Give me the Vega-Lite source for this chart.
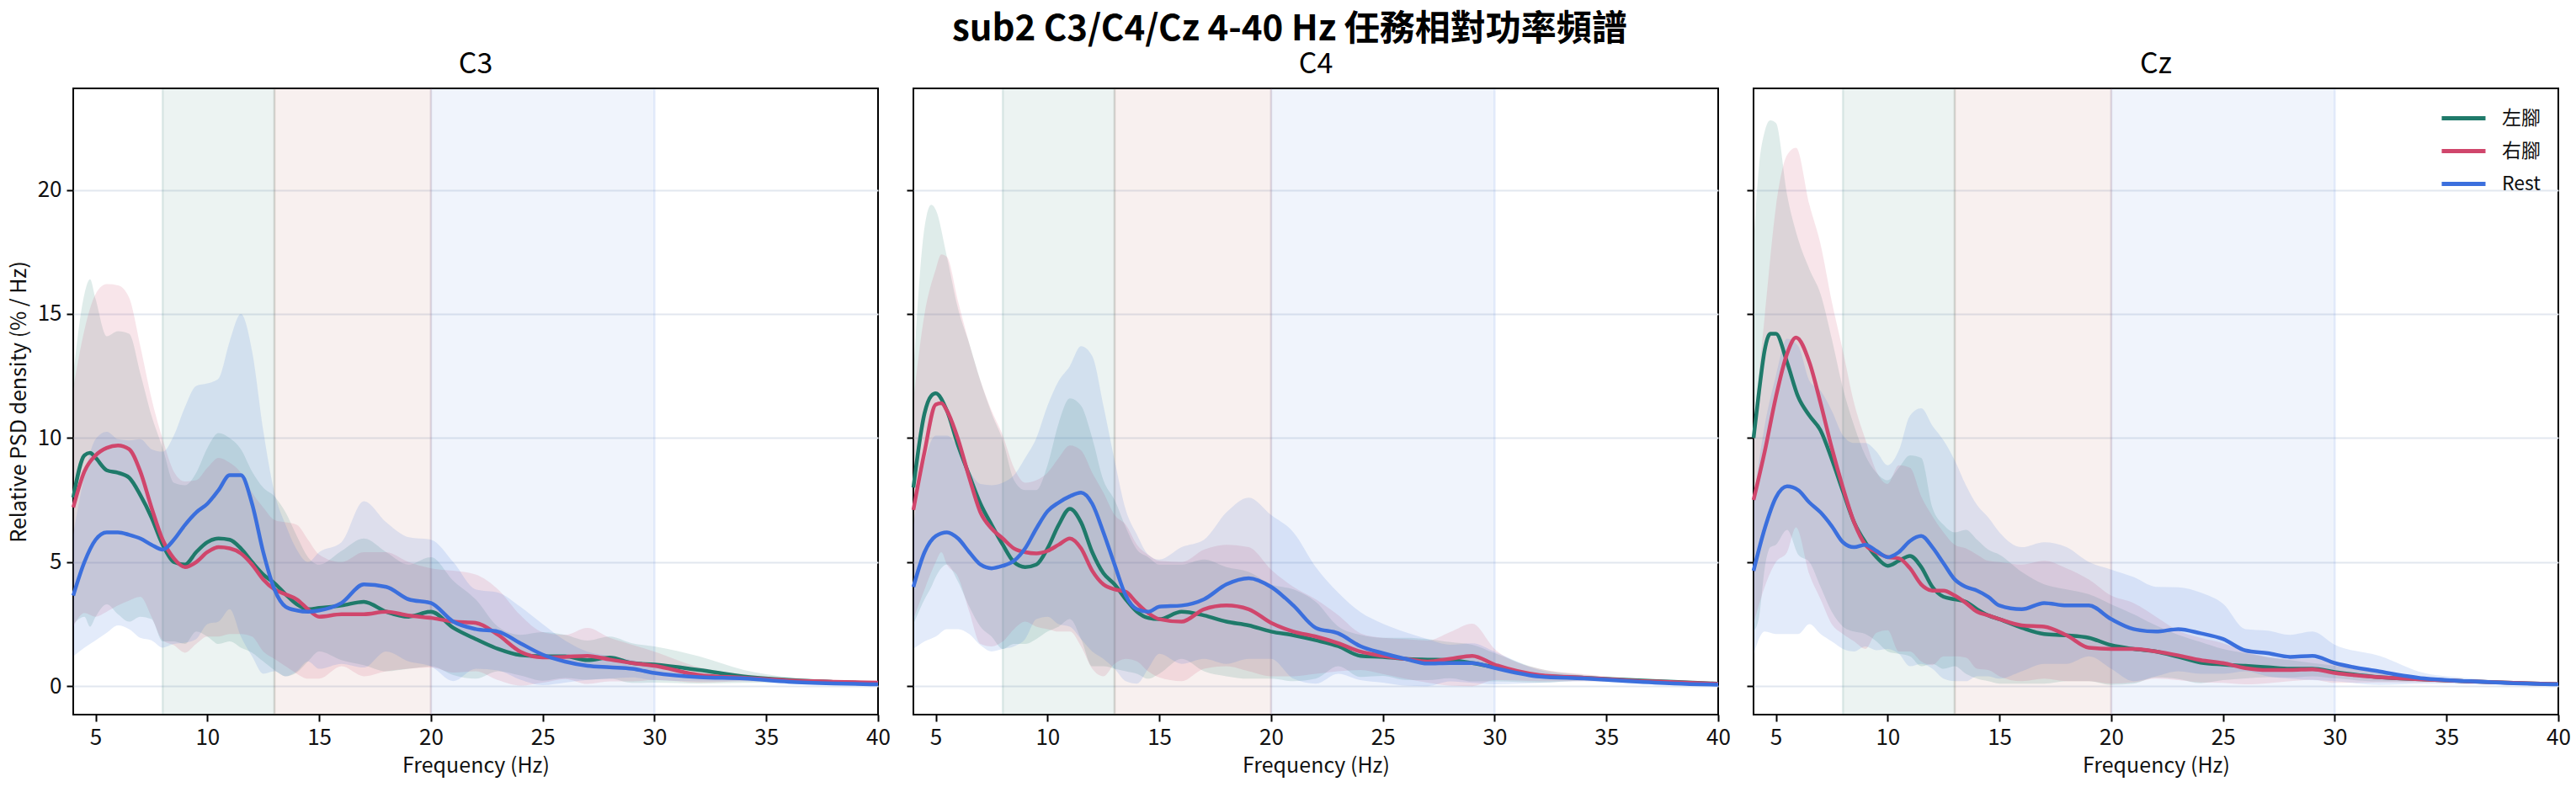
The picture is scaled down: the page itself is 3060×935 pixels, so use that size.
{
"$schema": "https://vega.github.io/schema/vega-lite/v6.json",
"background": "white",
"padding": {"left": 9, "top": 13, "right": 10, "bottom": 5},
"bounds": "flush",
"spacing": 42,
"title": {"text": "sub2 C3/C4/Cz 4-40 Hz 任務相對功率頻譜", "fontSize": 42, "fontWeight": "bold", "font": "Noto Sans CJK TC", "anchor": "middle", "color": "#000", "offset": 2},
"config": {
  "font": "Noto Sans CJK TC",
  "view": {"stroke": "#000", "strokeWidth": 2},
  "axis": {"domain": false, "tickColor": "#000", "tickWidth": 2, "tickSize": 8, "labelFontSize": 26, "labelColor": "#111", "titleFontSize": 25, "titleFontWeight": "normal", "titleColor": "#111", "gridColor": "#e2e7ef", "gridWidth": 2, "labelPadding": 6, "labelFlush": false, "labelOverlap": false},
  "axisX": {"grid": false, "titlePadding": 8},
  "axisY": {"grid": true, "titlePadding": 9},
  "legend": {"labelFontSize": 23, "labelColor": "#111", "padding": 0}
},
"resolve": {"scale": {"color": "independent", "fill": "independent", "stroke": "independent"}, "legend": {"color": "independent"}},
"datasets": {
  "bands": [{"band": "alpha", "x1": 8, "x2": 13}, {"band": "beta1", "x1": 13, "x2": 20}, {"band": "beta2", "x1": 20, "x2": 30}],
  "psd": [
{"ch":"C3","c":"左腳","f":4,"m":7.6,"lo":2.5,"hi":12.5},
{"ch":"C3","c":"左腳","f":4.5,"m":9.3,"lo":2.8,"hi":15.8},
{"ch":"C3","c":"左腳","f":4.75,"m":9.4,"lo":2.4,"hi":16.4},
{"ch":"C3","c":"左腳","f":5,"m":9.2,"lo":2.8,"hi":15.6},
{"ch":"C3","c":"左腳","f":5.5,"m":8.7,"lo":3.3,"hi":14.1},
{"ch":"C3","c":"左腳","f":6,"m":8.6,"lo":2.9,"hi":14.3},
{"ch":"C3","c":"左腳","f":6.5,"m":8.4,"lo":2.6,"hi":14.2},
{"ch":"C3","c":"左腳","f":7,"m":7.7,"lo":2.8,"hi":12.6},
{"ch":"C3","c":"左腳","f":7.5,"m":6.8,"lo":2.7,"hi":10.9},
{"ch":"C3","c":"左腳","f":8,"m":5.7,"lo":1.8,"hi":9.6},
{"ch":"C3","c":"左腳","f":8.5,"m":5.0,"lo":1.8,"hi":8.2},
{"ch":"C3","c":"左腳","f":9,"m":4.9,"lo":1.7,"hi":8.1},
{"ch":"C3","c":"左腳","f":9.5,"m":5.4,"lo":2.2,"hi":8.6},
{"ch":"C3","c":"左腳","f":10,"m":5.8,"lo":2.0,"hi":9.6},
{"ch":"C3","c":"左腳","f":10.5,"m":5.95,"lo":1.7,"hi":10.2},
{"ch":"C3","c":"左腳","f":11,"m":5.9,"lo":1.8,"hi":10.0},
{"ch":"C3","c":"左腳","f":11.5,"m":5.55,"lo":1.55,"hi":9.55},
{"ch":"C3","c":"左腳","f":12,"m":5.0,"lo":1.35,"hi":8.65},
{"ch":"C3","c":"左腳","f":12.5,"m":4.5,"lo":1.0,"hi":8.0},
{"ch":"C3","c":"左腳","f":13,"m":4.15,"lo":0.65,"hi":7.65},
{"ch":"C3","c":"左腳","f":13.5,"m":3.7,"lo":0.4,"hi":7.0},
{"ch":"C3","c":"左腳","f":14,"m":3.3,"lo":0.55,"hi":6.05},
{"ch":"C3","c":"左腳","f":14.5,"m":3.1,"lo":1.0,"hi":5.2},
{"ch":"C3","c":"左腳","f":15,"m":3.15,"lo":1.4,"hi":4.9},
{"ch":"C3","c":"左腳","f":16,"m":3.25,"lo":1.05,"hi":5.45},
{"ch":"C3","c":"左腳","f":17,"m":3.4,"lo":0.85,"hi":5.95},
{"ch":"C3","c":"左腳","f":18,"m":3.0,"lo":0.6,"hi":5.4},
{"ch":"C3","c":"左腳","f":19,"m":2.8,"lo":0.7,"hi":4.9},
{"ch":"C3","c":"左腳","f":20,"m":3.0,"lo":0.8,"hi":5.2},
{"ch":"C3","c":"左腳","f":21,"m":2.35,"lo":0.45,"hi":4.25},
{"ch":"C3","c":"左腳","f":22,"m":1.9,"lo":0.3,"hi":3.5},
{"ch":"C3","c":"左腳","f":23,"m":1.5,"lo":0.6,"hi":2.4},
{"ch":"C3","c":"左腳","f":24,"m":1.25,"lo":0.43,"hi":2.07},
{"ch":"C3","c":"左腳","f":25,"m":1.2,"lo":0.22,"hi":2.18},
{"ch":"C3","c":"左腳","f":26,"m":1.2,"lo":0.33,"hi":2.07},
{"ch":"C3","c":"左腳","f":27,"m":1.05,"lo":0.26,"hi":1.84},
{"ch":"C3","c":"左腳","f":28,"m":1.15,"lo":0.3,"hi":2.0},
{"ch":"C3","c":"左腳","f":29,"m":0.93,"lo":0.13,"hi":1.73},
{"ch":"C3","c":"左腳","f":30,"m":0.87,"lo":0.14,"hi":1.6},
{"ch":"C3","c":"左腳","f":32,"m":0.65,"lo":0.1,"hi":1.2},
{"ch":"C3","c":"左腳","f":34,"m":0.39,"lo":0.13,"hi":0.65},
{"ch":"C3","c":"左腳","f":36,"m":0.25,"lo":0.14,"hi":0.36},
{"ch":"C3","c":"左腳","f":38,"m":0.17,"lo":0.1,"hi":0.24},
{"ch":"C3","c":"左腳","f":40,"m":0.11,"lo":0.07,"hi":0.15},
{"ch":"C3","c":"右腳","f":4,"m":7.2,"lo":2.4,"hi":12.0},
{"ch":"C3","c":"右腳","f":4.5,"m":8.65,"lo":2.95,"hi":14.35},
{"ch":"C3","c":"右腳","f":5,"m":9.3,"lo":2.8,"hi":15.8},
{"ch":"C3","c":"右腳","f":5.5,"m":9.6,"lo":3.0,"hi":16.2},
{"ch":"C3","c":"右腳","f":6,"m":9.7,"lo":3.25,"hi":16.15},
{"ch":"C3","c":"右腳","f":6.5,"m":9.55,"lo":3.45,"hi":15.65},
{"ch":"C3","c":"右腳","f":7,"m":8.65,"lo":3.6,"hi":13.7},
{"ch":"C3","c":"右腳","f":7.5,"m":7.2,"lo":2.8,"hi":11.6},
{"ch":"C3","c":"右腳","f":8,"m":5.9,"lo":1.85,"hi":9.95},
{"ch":"C3","c":"右腳","f":8.5,"m":5.15,"lo":1.65,"hi":8.65},
{"ch":"C3","c":"右腳","f":9,"m":4.8,"lo":1.35,"hi":8.25},
{"ch":"C3","c":"右腳","f":9.5,"m":5.0,"lo":1.7,"hi":8.3},
{"ch":"C3","c":"右腳","f":10,"m":5.4,"lo":2.0,"hi":8.8},
{"ch":"C3","c":"右腳","f":10.5,"m":5.6,"lo":2.0,"hi":9.2},
{"ch":"C3","c":"右腳","f":11,"m":5.55,"lo":2.1,"hi":9.0},
{"ch":"C3","c":"右腳","f":11.5,"m":5.35,"lo":2.1,"hi":8.6},
{"ch":"C3","c":"右腳","f":12,"m":4.9,"lo":2.0,"hi":7.8},
{"ch":"C3","c":"右腳","f":12.5,"m":4.3,"lo":1.4,"hi":7.2},
{"ch":"C3","c":"右腳","f":13,"m":3.9,"lo":1.1,"hi":6.7},
{"ch":"C3","c":"右腳","f":13.5,"m":3.7,"lo":0.8,"hi":6.6},
{"ch":"C3","c":"右腳","f":14,"m":3.5,"lo":0.5,"hi":6.5},
{"ch":"C3","c":"右腳","f":14.5,"m":3.1,"lo":0.3,"hi":5.9},
{"ch":"C3","c":"右腳","f":15,"m":2.8,"lo":0.3,"hi":5.3},
{"ch":"C3","c":"右腳","f":16,"m":2.9,"lo":0.8,"hi":5.0},
{"ch":"C3","c":"右腳","f":17,"m":2.9,"lo":0.4,"hi":5.4},
{"ch":"C3","c":"右腳","f":18,"m":3.0,"lo":0.6,"hi":5.4},
{"ch":"C3","c":"右腳","f":19,"m":2.85,"lo":0.7,"hi":5.0},
{"ch":"C3","c":"右腳","f":20,"m":2.75,"lo":0.75,"hi":4.75},
{"ch":"C3","c":"右腳","f":21,"m":2.6,"lo":0.55,"hi":4.65},
{"ch":"C3","c":"右腳","f":22,"m":2.55,"lo":0.6,"hi":4.5},
{"ch":"C3","c":"右腳","f":23,"m":2.07,"lo":0.24,"hi":3.9},
{"ch":"C3","c":"右腳","f":24,"m":1.39,"lo":0.02,"hi":2.86},
{"ch":"C3","c":"右腳","f":25,"m":1.16,"lo":0.14,"hi":2.18},
{"ch":"C3","c":"右腳","f":26,"m":1.18,"lo":0.29,"hi":2.07},
{"ch":"C3","c":"右腳","f":27,"m":1.22,"lo":0.09,"hi":2.35},
{"ch":"C3","c":"右腳","f":28,"m":1.07,"lo":0.19,"hi":1.95},
{"ch":"C3","c":"右腳","f":29,"m":0.93,"lo":0.19,"hi":1.67},
{"ch":"C3","c":"右腳","f":30,"m":0.82,"lo":0.25,"hi":1.39},
{"ch":"C3","c":"右腳","f":32,"m":0.45,"lo":0.14,"hi":0.76},
{"ch":"C3","c":"右腳","f":34,"m":0.34,"lo":0.2,"hi":0.48},
{"ch":"C3","c":"右腳","f":36,"m":0.23,"lo":0.16,"hi":0.3},
{"ch":"C3","c":"右腳","f":38,"m":0.18,"lo":0.13,"hi":0.23},
{"ch":"C3","c":"右腳","f":40,"m":0.14,"lo":0.1,"hi":0.18},
{"ch":"C3","c":"Rest","f":4,"m":3.65,"lo":1.2,"hi":6.1},
{"ch":"C3","c":"Rest","f":4.5,"m":5.0,"lo":1.55,"hi":8.45},
{"ch":"C3","c":"Rest","f":5,"m":5.9,"lo":1.85,"hi":9.95},
{"ch":"C3","c":"Rest","f":5.5,"m":6.2,"lo":2.15,"hi":10.25},
{"ch":"C3","c":"Rest","f":6,"m":6.2,"lo":2.45,"hi":9.95},
{"ch":"C3","c":"Rest","f":6.5,"m":6.1,"lo":2.3,"hi":9.9},
{"ch":"C3","c":"Rest","f":7,"m":5.95,"lo":1.95,"hi":9.95},
{"ch":"C3","c":"Rest","f":7.5,"m":5.7,"lo":1.85,"hi":9.55},
{"ch":"C3","c":"Rest","f":8,"m":5.5,"lo":1.55,"hi":9.45},
{"ch":"C3","c":"Rest","f":8.5,"m":5.9,"lo":1.7,"hi":10.1},
{"ch":"C3","c":"Rest","f":9,"m":6.5,"lo":1.75,"hi":11.25},
{"ch":"C3","c":"Rest","f":9.5,"m":7.0,"lo":1.9,"hi":12.1},
{"ch":"C3","c":"Rest","f":10,"m":7.35,"lo":2.5,"hi":12.2},
{"ch":"C3","c":"Rest","f":10.5,"m":7.9,"lo":2.6,"hi":12.4},
{"ch":"C3","c":"Rest","f":11,"m":8.5,"lo":3.1,"hi":13.9},
{"ch":"C3","c":"Rest","f":11.5,"m":8.5,"lo":2.0,"hi":15.0},
{"ch":"C3","c":"Rest","f":12,"m":7.35,"lo":1.2,"hi":13.5},
{"ch":"C3","c":"Rest","f":12.5,"m":5.4,"lo":0.5,"hi":10.3},
{"ch":"C3","c":"Rest","f":13,"m":3.9,"lo":0.6,"hi":7.8},
{"ch":"C3","c":"Rest","f":13.5,"m":3.2,"lo":0.4,"hi":6.5},
{"ch":"C3","c":"Rest","f":14,"m":3.05,"lo":0.6,"hi":5.5},
{"ch":"C3","c":"Rest","f":14.5,"m":3.0,"lo":1.0,"hi":5.0},
{"ch":"C3","c":"Rest","f":15,"m":3.05,"lo":0.7,"hi":5.4},
{"ch":"C3","c":"Rest","f":16,"m":3.35,"lo":0.9,"hi":5.8},
{"ch":"C3","c":"Rest","f":17,"m":4.1,"lo":0.75,"hi":7.45},
{"ch":"C3","c":"Rest","f":18,"m":4.0,"lo":1.4,"hi":6.6},
{"ch":"C3","c":"Rest","f":19,"m":3.5,"lo":1.0,"hi":6.0},
{"ch":"C3","c":"Rest","f":20,"m":3.35,"lo":0.8,"hi":5.9},
{"ch":"C3","c":"Rest","f":21,"m":2.6,"lo":0.2,"hi":5.0},
{"ch":"C3","c":"Rest","f":22,"m":2.3,"lo":0.7,"hi":3.9},
{"ch":"C3","c":"Rest","f":23,"m":2.2,"lo":0.63,"hi":3.77},
{"ch":"C3","c":"Rest","f":24,"m":1.73,"lo":0.26,"hi":3.2},
{"ch":"C3","c":"Rest","f":25,"m":1.27,"lo":0.04,"hi":2.5},
{"ch":"C3","c":"Rest","f":26,"m":0.99,"lo":0.14,"hi":1.84},
{"ch":"C3","c":"Rest","f":27,"m":0.82,"lo":0.25,"hi":1.39},
{"ch":"C3","c":"Rest","f":28,"m":0.76,"lo":0.3,"hi":1.22},
{"ch":"C3","c":"Rest","f":29,"m":0.7,"lo":0.35,"hi":1.05},
{"ch":"C3","c":"Rest","f":30,"m":0.53,"lo":0.24,"hi":0.82},
{"ch":"C3","c":"Rest","f":32,"m":0.36,"lo":0.19,"hi":0.53},
{"ch":"C3","c":"Rest","f":34,"m":0.31,"lo":0.2,"hi":0.42},
{"ch":"C3","c":"Rest","f":36,"m":0.18,"lo":0.1,"hi":0.26},
{"ch":"C3","c":"Rest","f":38,"m":0.11,"lo":0.06,"hi":0.16},
{"ch":"C3","c":"Rest","f":40,"m":0.07,"lo":0.04,"hi":0.1},
{"ch":"C4","c":"左腳","f":4,"m":8.0,"lo":2.5,"hi":12.5},
{"ch":"C4","c":"左腳","f":4.5,"m":11.0,"lo":3.5,"hi":18.5},
{"ch":"C4","c":"左腳","f":4.8,"m":11.7,"lo":4.0,"hi":19.4},
{"ch":"C4","c":"左腳","f":5,"m":11.8,"lo":4.4,"hi":19.2},
{"ch":"C4","c":"左腳","f":5.5,"m":11.1,"lo":4.9,"hi":17.3},
{"ch":"C4","c":"左腳","f":6,"m":9.7,"lo":4.2,"hi":15.2},
{"ch":"C4","c":"左腳","f":6.5,"m":8.5,"lo":3.2,"hi":13.8},
{"ch":"C4","c":"左腳","f":7,"m":7.35,"lo":2.4,"hi":12.3},
{"ch":"C4","c":"左腳","f":7.5,"m":6.5,"lo":2.0,"hi":11.0},
{"ch":"C4","c":"左腳","f":8,"m":5.7,"lo":1.5,"hi":9.9},
{"ch":"C4","c":"左腳","f":8.5,"m":5.0,"lo":1.7,"hi":8.3},
{"ch":"C4","c":"左腳","f":9,"m":4.8,"lo":1.7,"hi":7.9},
{"ch":"C4","c":"左腳","f":9.5,"m":4.9,"lo":1.9,"hi":7.9},
{"ch":"C4","c":"左腳","f":10,"m":5.55,"lo":2.2,"hi":8.9},
{"ch":"C4","c":"左腳","f":10.5,"m":6.5,"lo":2.4,"hi":10.6},
{"ch":"C4","c":"左腳","f":11,"m":7.15,"lo":2.7,"hi":11.6},
{"ch":"C4","c":"左腳","f":11.5,"m":6.6,"lo":1.9,"hi":11.3},
{"ch":"C4","c":"左腳","f":12,"m":5.4,"lo":0.8,"hi":10.0},
{"ch":"C4","c":"左腳","f":12.5,"m":4.55,"lo":0.8,"hi":8.3},
{"ch":"C4","c":"左腳","f":13,"m":4.1,"lo":0.7,"hi":7.5},
{"ch":"C4","c":"左腳","f":13.5,"m":3.5,"lo":0.6,"hi":6.4},
{"ch":"C4","c":"左腳","f":14,"m":3.0,"lo":0.5,"hi":5.5},
{"ch":"C4","c":"左腳","f":14.5,"m":2.75,"lo":0.3,"hi":5.2},
{"ch":"C4","c":"左腳","f":15,"m":2.7,"lo":0.5,"hi":4.9},
{"ch":"C4","c":"左腳","f":16,"m":3.0,"lo":1.1,"hi":4.9},
{"ch":"C4","c":"左腳","f":17,"m":2.85,"lo":0.6,"hi":5.1},
{"ch":"C4","c":"左腳","f":18,"m":2.6,"lo":0.4,"hi":4.8},
{"ch":"C4","c":"左腳","f":19,"m":2.45,"lo":0.3,"hi":4.6},
{"ch":"C4","c":"左腳","f":20,"m":2.2,"lo":0.3,"hi":4.1},
{"ch":"C4","c":"左腳","f":21,"m":2.05,"lo":0.2,"hi":3.9},
{"ch":"C4","c":"左腳","f":22,"m":1.85,"lo":0.3,"hi":3.4},
{"ch":"C4","c":"左腳","f":23,"m":1.61,"lo":0.8,"hi":2.41},
{"ch":"C4","c":"左腳","f":24,"m":1.22,"lo":0.37,"hi":2.07},
{"ch":"C4","c":"左腳","f":25,"m":1.18,"lo":0.41,"hi":1.95},
{"ch":"C4","c":"左腳","f":26,"m":1.1,"lo":0.25,"hi":1.95},
{"ch":"C4","c":"左腳","f":27,"m":1.07,"lo":0.24,"hi":1.9},
{"ch":"C4","c":"左腳","f":28,"m":1.05,"lo":0.32,"hi":1.78},
{"ch":"C4","c":"左腳","f":29,"m":0.93,"lo":0.19,"hi":1.67},
{"ch":"C4","c":"左腳","f":30,"m":0.76,"lo":0.19,"hi":1.33},
{"ch":"C4","c":"左腳","f":32,"m":0.42,"lo":0.14,"hi":0.7},
{"ch":"C4","c":"左腳","f":34,"m":0.34,"lo":0.23,"hi":0.45},
{"ch":"C4","c":"左腳","f":36,"m":0.25,"lo":0.2,"hi":0.3},
{"ch":"C4","c":"左腳","f":38,"m":0.18,"lo":0.14,"hi":0.22},
{"ch":"C4","c":"左腳","f":40,"m":0.1,"lo":0.08,"hi":0.12},
{"ch":"C4","c":"右腳","f":4,"m":7.1,"lo":2.7,"hi":11.5},
{"ch":"C4","c":"右腳","f":4.5,"m":9.45,"lo":3.9,"hi":15.0},
{"ch":"C4","c":"右腳","f":5,"m":11.35,"lo":5.0,"hi":16.8},
{"ch":"C4","c":"右腳","f":5.25,"m":11.4,"lo":5.4,"hi":17.4},
{"ch":"C4","c":"右腳","f":5.5,"m":11.1,"lo":4.9,"hi":17.3},
{"ch":"C4","c":"右腳","f":6,"m":9.95,"lo":4.4,"hi":15.5},
{"ch":"C4","c":"右腳","f":6.5,"m":8.4,"lo":3.0,"hi":13.8},
{"ch":"C4","c":"右腳","f":7,"m":7.0,"lo":1.7,"hi":12.3},
{"ch":"C4","c":"右腳","f":7.5,"m":6.35,"lo":1.6,"hi":11.1},
{"ch":"C4","c":"右腳","f":8,"m":5.95,"lo":1.8,"hi":10.1},
{"ch":"C4","c":"右腳","f":8.5,"m":5.55,"lo":2.3,"hi":8.8},
{"ch":"C4","c":"右腳","f":9,"m":5.4,"lo":2.6,"hi":8.2},
{"ch":"C4","c":"右腳","f":9.5,"m":5.35,"lo":2.4,"hi":8.3},
{"ch":"C4","c":"右腳","f":10,"m":5.45,"lo":2.3,"hi":8.6},
{"ch":"C4","c":"右腳","f":10.5,"m":5.7,"lo":2.2,"hi":9.2},
{"ch":"C4","c":"右腳","f":11,"m":5.95,"lo":2.2,"hi":9.7},
{"ch":"C4","c":"右腳","f":11.5,"m":5.55,"lo":1.6,"hi":9.5},
{"ch":"C4","c":"右腳","f":12,"m":4.65,"lo":0.7,"hi":8.6},
{"ch":"C4","c":"右腳","f":12.5,"m":4.1,"lo":0.4,"hi":7.8},
{"ch":"C4","c":"右腳","f":13,"m":3.9,"lo":0.9,"hi":6.9},
{"ch":"C4","c":"右腳","f":13.5,"m":3.8,"lo":1.1,"hi":6.5},
{"ch":"C4","c":"右腳","f":14,"m":3.35,"lo":1.0,"hi":5.7},
{"ch":"C4","c":"右腳","f":14.5,"m":2.95,"lo":0.6,"hi":5.3},
{"ch":"C4","c":"右腳","f":15,"m":2.7,"lo":0.35,"hi":5.05},
{"ch":"C4","c":"右腳","f":16,"m":2.6,"lo":0.2,"hi":5.0},
{"ch":"C4","c":"右腳","f":17,"m":3.1,"lo":0.7,"hi":5.5},
{"ch":"C4","c":"右腳","f":18,"m":3.25,"lo":0.8,"hi":5.7},
{"ch":"C4","c":"右腳","f":19,"m":3.1,"lo":0.6,"hi":5.6},
{"ch":"C4","c":"右腳","f":20,"m":2.55,"lo":0.4,"hi":4.7},
{"ch":"C4","c":"右腳","f":21,"m":2.2,"lo":0.4,"hi":4.0},
{"ch":"C4","c":"右腳","f":22,"m":2.0,"lo":0.5,"hi":3.5},
{"ch":"C4","c":"右腳","f":23,"m":1.73,"lo":0.6,"hi":2.86},
{"ch":"C4","c":"右腳","f":24,"m":1.39,"lo":0.65,"hi":2.13},
{"ch":"C4","c":"右腳","f":25,"m":1.22,"lo":0.49,"hi":1.95},
{"ch":"C4","c":"右腳","f":26,"m":1.1,"lo":0.3,"hi":1.9},
{"ch":"C4","c":"右腳","f":27,"m":0.99,"lo":0.14,"hi":1.84},
{"ch":"C4","c":"右腳","f":28,"m":1.1,"lo":0.02,"hi":2.18},
{"ch":"C4","c":"右腳","f":29,"m":1.22,"lo":0.0,"hi":2.52},
{"ch":"C4","c":"右腳","f":30,"m":0.87,"lo":0.24,"hi":1.5},
{"ch":"C4","c":"右腳","f":32,"m":0.45,"lo":0.2,"hi":0.7},
{"ch":"C4","c":"右腳","f":34,"m":0.34,"lo":0.2,"hi":0.48},
{"ch":"C4","c":"右腳","f":36,"m":0.23,"lo":0.15,"hi":0.31},
{"ch":"C4","c":"右腳","f":38,"m":0.16,"lo":0.12,"hi":0.2},
{"ch":"C4","c":"右腳","f":40,"m":0.09,"lo":0.07,"hi":0.11},
{"ch":"C4","c":"Rest","f":4,"m":4.0,"lo":1.5,"hi":6.5},
{"ch":"C4","c":"Rest","f":4.5,"m":5.4,"lo":1.8,"hi":9.0},
{"ch":"C4","c":"Rest","f":5,"m":6.05,"lo":2.0,"hi":10.1},
{"ch":"C4","c":"Rest","f":5.5,"m":6.2,"lo":2.3,"hi":10.1},
{"ch":"C4","c":"Rest","f":6,"m":5.95,"lo":2.3,"hi":9.6},
{"ch":"C4","c":"Rest","f":6.5,"m":5.4,"lo":2.1,"hi":8.7},
{"ch":"C4","c":"Rest","f":7,"m":4.9,"lo":1.65,"hi":8.15},
{"ch":"C4","c":"Rest","f":7.5,"m":4.75,"lo":1.4,"hi":8.1},
{"ch":"C4","c":"Rest","f":8,"m":4.85,"lo":1.5,"hi":8.2},
{"ch":"C4","c":"Rest","f":8.5,"m":5.05,"lo":1.6,"hi":8.5},
{"ch":"C4","c":"Rest","f":9,"m":5.55,"lo":1.9,"hi":9.2},
{"ch":"C4","c":"Rest","f":9.5,"m":6.35,"lo":2.7,"hi":10.0},
{"ch":"C4","c":"Rest","f":10,"m":7.05,"lo":2.8,"hi":11.3},
{"ch":"C4","c":"Rest","f":10.5,"m":7.4,"lo":2.5,"hi":12.3},
{"ch":"C4","c":"Rest","f":11,"m":7.65,"lo":2.4,"hi":12.9},
{"ch":"C4","c":"Rest","f":11.5,"m":7.8,"lo":1.9,"hi":13.7},
{"ch":"C4","c":"Rest","f":12,"m":7.35,"lo":1.4,"hi":13.3},
{"ch":"C4","c":"Rest","f":12.5,"m":6.2,"lo":1.1,"hi":11.3},
{"ch":"C4","c":"Rest","f":13,"m":4.9,"lo":0.7,"hi":9.1},
{"ch":"C4","c":"Rest","f":13.5,"m":3.65,"lo":0.2,"hi":7.1},
{"ch":"C4","c":"Rest","f":14,"m":3.1,"lo":0.1,"hi":6.1},
{"ch":"C4","c":"Rest","f":14.5,"m":3.0,"lo":0.7,"hi":5.3},
{"ch":"C4","c":"Rest","f":15,"m":3.2,"lo":1.3,"hi":5.1},
{"ch":"C4","c":"Rest","f":16,"m":3.25,"lo":0.9,"hi":5.6},
{"ch":"C4","c":"Rest","f":17,"m":3.5,"lo":1.1,"hi":5.9},
{"ch":"C4","c":"Rest","f":18,"m":4.1,"lo":0.9,"hi":7.0},
{"ch":"C4","c":"Rest","f":19,"m":4.35,"lo":1.1,"hi":7.6},
{"ch":"C4","c":"Rest","f":20,"m":4.0,"lo":1.1,"hi":6.9},
{"ch":"C4","c":"Rest","f":21,"m":3.25,"lo":0.3,"hi":6.2},
{"ch":"C4","c":"Rest","f":22,"m":2.35,"lo":0.1,"hi":4.8},
{"ch":"C4","c":"Rest","f":23,"m":2.13,"lo":0.5,"hi":3.77},
{"ch":"C4","c":"Rest","f":24,"m":1.61,"lo":0.24,"hi":2.98},
{"ch":"C4","c":"Rest","f":25,"m":1.33,"lo":0.14,"hi":2.52},
{"ch":"C4","c":"Rest","f":26,"m":1.1,"lo":0.02,"hi":2.18},
{"ch":"C4","c":"Rest","f":27,"m":0.91,"lo":0.0,"hi":1.9},
{"ch":"C4","c":"Rest","f":28,"m":0.93,"lo":0.19,"hi":1.67},
{"ch":"C4","c":"Rest","f":29,"m":0.93,"lo":0.13,"hi":1.73},
{"ch":"C4","c":"Rest","f":30,"m":0.73,"lo":0.07,"hi":1.39},
{"ch":"C4","c":"Rest","f":32,"m":0.39,"lo":0.13,"hi":0.65},
{"ch":"C4","c":"Rest","f":34,"m":0.31,"lo":0.2,"hi":0.42},
{"ch":"C4","c":"Rest","f":36,"m":0.2,"lo":0.12,"hi":0.28},
{"ch":"C4","c":"Rest","f":38,"m":0.11,"lo":0.05,"hi":0.19},
{"ch":"C4","c":"Rest","f":40,"m":0.06,"lo":0.04,"hi":0.08},
{"ch":"Cz","c":"左腳","f":4,"m":10.0,"lo":2.2,"hi":17.8},
{"ch":"Cz","c":"左腳","f":4.25,"m":11.9,"lo":2.8,"hi":21.0},
{"ch":"Cz","c":"左腳","f":4.5,"m":13.55,"lo":4.75,"hi":22.35},
{"ch":"Cz","c":"左腳","f":4.75,"m":14.2,"lo":5.6,"hi":22.8},
{"ch":"Cz","c":"左腳","f":5,"m":14.2,"lo":5.7,"hi":22.7},
{"ch":"Cz","c":"左腳","f":5.5,"m":13.05,"lo":6.3,"hi":19.8},
{"ch":"Cz","c":"左腳","f":6,"m":11.65,"lo":5.3,"hi":18.0},
{"ch":"Cz","c":"左腳","f":6.5,"m":10.9,"lo":5.0,"hi":16.8},
{"ch":"Cz","c":"左腳","f":7,"m":10.3,"lo":4.0,"hi":15.8},
{"ch":"Cz","c":"左腳","f":7.5,"m":9.15,"lo":3.0,"hi":14.0},
{"ch":"Cz","c":"左腳","f":8,"m":7.85,"lo":2.4,"hi":12.0},
{"ch":"Cz","c":"左腳","f":8.5,"m":6.6,"lo":2.2,"hi":10.5},
{"ch":"Cz","c":"左腳","f":9,"m":5.8,"lo":2.1,"hi":9.3},
{"ch":"Cz","c":"左腳","f":9.5,"m":5.2,"lo":1.8,"hi":8.6},
{"ch":"Cz","c":"左腳","f":10,"m":4.85,"lo":1.4,"hi":8.3},
{"ch":"Cz","c":"左腳","f":10.5,"m":5.05,"lo":1.3,"hi":8.8},
{"ch":"Cz","c":"左腳","f":11,"m":5.25,"lo":1.2,"hi":9.3},
{"ch":"Cz","c":"左腳","f":11.5,"m":4.8,"lo":0.8,"hi":9.2},
{"ch":"Cz","c":"左腳","f":12,"m":4.0,"lo":0.9,"hi":7.2},
{"ch":"Cz","c":"左腳","f":12.5,"m":3.6,"lo":0.7,"hi":6.5},
{"ch":"Cz","c":"左腳","f":13,"m":3.5,"lo":0.8,"hi":6.2},
{"ch":"Cz","c":"左腳","f":13.5,"m":3.4,"lo":0.5,"hi":6.3},
{"ch":"Cz","c":"左腳","f":14,"m":3.1,"lo":0.3,"hi":5.9},
{"ch":"Cz","c":"左腳","f":14.5,"m":2.85,"lo":0.2,"hi":5.5},
{"ch":"Cz","c":"左腳","f":15,"m":2.7,"lo":0.1,"hi":5.3},
{"ch":"Cz","c":"左腳","f":16,"m":2.35,"lo":0.1,"hi":4.6},
{"ch":"Cz","c":"左腳","f":17,"m":2.1,"lo":0.1,"hi":4.1},
{"ch":"Cz","c":"左腳","f":18,"m":2.05,"lo":0.2,"hi":3.9},
{"ch":"Cz","c":"左腳","f":19,"m":1.95,"lo":0.2,"hi":3.7},
{"ch":"Cz","c":"左腳","f":20,"m":1.65,"lo":0.05,"hi":3.3},
{"ch":"Cz","c":"左腳","f":21,"m":1.5,"lo":0.1,"hi":2.9},
{"ch":"Cz","c":"左腳","f":22,"m":1.4,"lo":0.35,"hi":2.45},
{"ch":"Cz","c":"左腳","f":23,"m":1.18,"lo":0.29,"hi":2.07},
{"ch":"Cz","c":"左腳","f":24,"m":0.95,"lo":0.12,"hi":1.78},
{"ch":"Cz","c":"左腳","f":25,"m":0.87,"lo":0.24,"hi":1.5},
{"ch":"Cz","c":"左腳","f":26,"m":0.82,"lo":0.31,"hi":1.33},
{"ch":"Cz","c":"左腳","f":27,"m":0.76,"lo":0.36,"hi":1.16},
{"ch":"Cz","c":"左腳","f":28,"m":0.7,"lo":0.35,"hi":1.05},
{"ch":"Cz","c":"左腳","f":29,"m":0.7,"lo":0.4,"hi":0.93},
{"ch":"Cz","c":"左腳","f":30,"m":0.57,"lo":0.32,"hi":0.82},
{"ch":"Cz","c":"左腳","f":32,"m":0.36,"lo":0.19,"hi":0.53},
{"ch":"Cz","c":"左腳","f":34,"m":0.27,"lo":0.2,"hi":0.34},
{"ch":"Cz","c":"左腳","f":36,"m":0.19,"lo":0.15,"hi":0.23},
{"ch":"Cz","c":"左腳","f":38,"m":0.13,"lo":0.1,"hi":0.16},
{"ch":"Cz","c":"左腳","f":40,"m":0.08,"lo":0.06,"hi":0.1},
{"ch":"Cz","c":"右腳","f":4,"m":7.5,"lo":2.5,"hi":10.5},
{"ch":"Cz","c":"右腳","f":4.5,"m":9.45,"lo":4.0,"hi":14.9},
{"ch":"Cz","c":"右腳","f":5,"m":11.65,"lo":5.0,"hi":19.3},
{"ch":"Cz","c":"右腳","f":5.5,"m":13.4,"lo":5.4,"hi":21.4},
{"ch":"Cz","c":"右腳","f":5.9,"m":14.05,"lo":6.4,"hi":21.7},
{"ch":"Cz","c":"右腳","f":6.5,"m":13.05,"lo":4.5,"hi":19.4},
{"ch":"Cz","c":"右腳","f":7,"m":11.4,"lo":3.5,"hi":17.8},
{"ch":"Cz","c":"右腳","f":7.5,"m":9.6,"lo":2.5,"hi":15.5},
{"ch":"Cz","c":"右腳","f":8,"m":8.0,"lo":2.1,"hi":13.5},
{"ch":"Cz","c":"右腳","f":8.5,"m":6.6,"lo":1.8,"hi":11.4},
{"ch":"Cz","c":"右腳","f":9,"m":5.7,"lo":1.5,"hi":9.95},
{"ch":"Cz","c":"右腳","f":9.5,"m":5.4,"lo":2.15,"hi":8.65},
{"ch":"Cz","c":"右腳","f":10,"m":5.2,"lo":2.25,"hi":8.15},
{"ch":"Cz","c":"右腳","f":10.5,"m":5.15,"lo":1.4,"hi":8.9},
{"ch":"Cz","c":"右腳","f":11,"m":4.75,"lo":1.4,"hi":8.8},
{"ch":"Cz","c":"右腳","f":11.5,"m":4.1,"lo":1.0,"hi":7.65},
{"ch":"Cz","c":"右腳","f":12,"m":3.85,"lo":0.85,"hi":6.85},
{"ch":"Cz","c":"右腳","f":12.5,"m":3.85,"lo":1.2,"hi":6.2},
{"ch":"Cz","c":"右腳","f":13,"m":3.65,"lo":1.2,"hi":5.7},
{"ch":"Cz","c":"右腳","f":13.5,"m":3.35,"lo":1.15,"hi":5.55},
{"ch":"Cz","c":"右腳","f":14,"m":3.0,"lo":0.7,"hi":5.3},
{"ch":"Cz","c":"右腳","f":14.5,"m":2.85,"lo":0.65,"hi":5.05},
{"ch":"Cz","c":"右腳","f":15,"m":2.7,"lo":0.4,"hi":5.0},
{"ch":"Cz","c":"右腳","f":16,"m":2.45,"lo":0.2,"hi":4.9},
{"ch":"Cz","c":"右腳","f":17,"m":2.4,"lo":0.3,"hi":5.05},
{"ch":"Cz","c":"右腳","f":18,"m":2.05,"lo":0.2,"hi":4.75},
{"ch":"Cz","c":"右腳","f":19,"m":1.55,"lo":0.2,"hi":4.3},
{"ch":"Cz","c":"右腳","f":20,"m":1.5,"lo":0.1,"hi":3.65},
{"ch":"Cz","c":"右腳","f":21,"m":1.5,"lo":0.15,"hi":3.35},
{"ch":"Cz","c":"右腳","f":22,"m":1.4,"lo":0.3,"hi":2.8},
{"ch":"Cz","c":"右腳","f":23,"m":1.24,"lo":0.24,"hi":2.24},
{"ch":"Cz","c":"右腳","f":24,"m":1.05,"lo":0.15,"hi":1.95},
{"ch":"Cz","c":"右腳","f":25,"m":0.93,"lo":0.13,"hi":1.73},
{"ch":"Cz","c":"右腳","f":26,"m":0.73,"lo":0.07,"hi":1.39},
{"ch":"Cz","c":"右腳","f":27,"m":0.65,"lo":0.12,"hi":1.18},
{"ch":"Cz","c":"右腳","f":28,"m":0.65,"lo":0.2,"hi":1.1},
{"ch":"Cz","c":"右腳","f":29,"m":0.68,"lo":0.26,"hi":1.1},
{"ch":"Cz","c":"右腳","f":30,"m":0.53,"lo":0.13,"hi":0.93},
{"ch":"Cz","c":"右腳","f":32,"m":0.36,"lo":0.15,"hi":0.57},
{"ch":"Cz","c":"右腳","f":34,"m":0.27,"lo":0.15,"hi":0.39},
{"ch":"Cz","c":"右腳","f":36,"m":0.19,"lo":0.13,"hi":0.25},
{"ch":"Cz","c":"右腳","f":38,"m":0.13,"lo":0.08,"hi":0.18},
{"ch":"Cz","c":"右腳","f":40,"m":0.08,"lo":0.06,"hi":0.1},
{"ch":"Cz","c":"Rest","f":4,"m":4.65,"lo":1.3,"hi":7.5},
{"ch":"Cz","c":"Rest","f":4.5,"m":6.35,"lo":2.2,"hi":10.5},
{"ch":"Cz","c":"Rest","f":5,"m":7.6,"lo":2.1,"hi":12.5},
{"ch":"Cz","c":"Rest","f":5.5,"m":8.05,"lo":2.1,"hi":14.0},
{"ch":"Cz","c":"Rest","f":6,"m":7.9,"lo":2.1,"hi":13.7},
{"ch":"Cz","c":"Rest","f":6.5,"m":7.4,"lo":2.5,"hi":12.3},
{"ch":"Cz","c":"Rest","f":7,"m":7.0,"lo":2.1,"hi":11.9},
{"ch":"Cz","c":"Rest","f":7.5,"m":6.45,"lo":1.8,"hi":11.1},
{"ch":"Cz","c":"Rest","f":8,"m":5.8,"lo":1.5,"hi":10.1},
{"ch":"Cz","c":"Rest","f":8.5,"m":5.6,"lo":1.4,"hi":9.8},
{"ch":"Cz","c":"Rest","f":9,"m":5.7,"lo":1.6,"hi":9.8},
{"ch":"Cz","c":"Rest","f":9.5,"m":5.45,"lo":1.45,"hi":9.45},
{"ch":"Cz","c":"Rest","f":10,"m":5.2,"lo":1.5,"hi":8.9},
{"ch":"Cz","c":"Rest","f":10.5,"m":5.4,"lo":1.3,"hi":9.5},
{"ch":"Cz","c":"Rest","f":11,"m":5.85,"lo":0.8,"hi":10.9},
{"ch":"Cz","c":"Rest","f":11.5,"m":6.05,"lo":0.9,"hi":11.2},
{"ch":"Cz","c":"Rest","f":12,"m":5.6,"lo":0.7,"hi":10.5},
{"ch":"Cz","c":"Rest","f":12.5,"m":4.95,"lo":0.3,"hi":9.9},
{"ch":"Cz","c":"Rest","f":13,"m":4.3,"lo":0.2,"hi":9.1},
{"ch":"Cz","c":"Rest","f":13.5,"m":4.0,"lo":0.2,"hi":8.1},
{"ch":"Cz","c":"Rest","f":14,"m":3.85,"lo":0.4,"hi":7.3},
{"ch":"Cz","c":"Rest","f":14.5,"m":3.6,"lo":0.4,"hi":6.8},
{"ch":"Cz","c":"Rest","f":15,"m":3.25,"lo":0.3,"hi":6.2},
{"ch":"Cz","c":"Rest","f":16,"m":3.1,"lo":0.6,"hi":5.6},
{"ch":"Cz","c":"Rest","f":17,"m":3.35,"lo":0.9,"hi":5.8},
{"ch":"Cz","c":"Rest","f":18,"m":3.25,"lo":0.9,"hi":5.6},
{"ch":"Cz","c":"Rest","f":19,"m":3.25,"lo":1.2,"hi":5.0},
{"ch":"Cz","c":"Rest","f":20,"m":2.7,"lo":0.7,"hi":4.7},
{"ch":"Cz","c":"Rest","f":21,"m":2.3,"lo":0.2,"hi":4.4},
{"ch":"Cz","c":"Rest","f":22,"m":2.2,"lo":0.4,"hi":4.0},
{"ch":"Cz","c":"Rest","f":23,"m":2.3,"lo":0.6,"hi":3.98},
{"ch":"Cz","c":"Rest","f":24,"m":2.13,"lo":0.5,"hi":3.77},
{"ch":"Cz","c":"Rest","f":25,"m":1.9,"lo":0.5,"hi":3.32},
{"ch":"Cz","c":"Rest","f":26,"m":1.44,"lo":0.6,"hi":2.3},
{"ch":"Cz","c":"Rest","f":27,"m":1.33,"lo":0.4,"hi":2.24},
{"ch":"Cz","c":"Rest","f":28,"m":1.18,"lo":0.3,"hi":2.07},
{"ch":"Cz","c":"Rest","f":29,"m":1.22,"lo":0.24,"hi":2.2},
{"ch":"Cz","c":"Rest","f":30,"m":0.93,"lo":0.2,"hi":1.67},
{"ch":"Cz","c":"Rest","f":32,"m":0.59,"lo":0.05,"hi":1.22},
{"ch":"Cz","c":"Rest","f":34,"m":0.31,"lo":0.1,"hi":0.53},
{"ch":"Cz","c":"Rest","f":36,"m":0.2,"lo":0.08,"hi":0.32},
{"ch":"Cz","c":"Rest","f":38,"m":0.12,"lo":0.05,"hi":0.2},
{"ch":"Cz","c":"Rest","f":40,"m":0.07,"lo":0.04,"hi":0.1}
  ]
},
"hconcat": [
  {
    "width": 956, "height": 744,
    "title": {"text": "C3", "fontSize": 34, "fontWeight": "normal", "offset": 10, "color": "#000"},
    "layer": [
      {"data": {"name": "bands"}, "mark": {"type": "rect", "opacity": 0.1},
       "encoding": {"x": {"field": "x1", "type": "quantitative", "scale": {"domain": [4, 40], "nice": false, "zero": false}, "axis": {"title": "Frequency (Hz)", "values": [5,10,15,20,25,30,35,40]}}, "x2": {"field": "x2"},
        "fill": {"field": "band", "type": "nominal", "scale": {"domain": ["alpha","beta1","beta2"], "range": ["#41877d","#b9695f","#6991e1"]}, "legend": null}}},
      {"data": {"name": "bands"}, "mark": {"type": "rule", "strokeWidth": 2.5, "opacity": 0.15},
       "encoding": {"x": {"field": "x1", "type": "quantitative", "axis": {"title": "Frequency (Hz)"}}, "stroke": {"field": "band", "type": "nominal", "scale": {"domain": ["alpha","beta1","beta2"], "range": ["#41877d","#b9695f","#6991e1"]}, "legend": null}}},
      {"data": {"name": "bands"}, "mark": {"type": "rule", "strokeWidth": 2.5, "opacity": 0.15},
       "encoding": {"x": {"field": "x2", "type": "quantitative", "axis": {"title": "Frequency (Hz)"}}, "stroke": {"field": "band", "type": "nominal", "legend": null}}},
      {"data": {"name": "psd"}, "transform": [{"filter": "datum.ch === 'C3'"}],
       "mark": {"type": "area", "interpolate": "monotone", "opacity": 0.14},
       "encoding": {"x": {"field": "f", "type": "quantitative", "axis": {"title": "Frequency (Hz)"}},
        "y": {"field": "lo", "type": "quantitative", "scale": {"domain": [-1.147, 24.09], "nice": false, "zero": false}, "axis": {"title": "Relative PSD density (% / Hz)", "values": [0,5,10,15,20]}},
        "y2": {"field": "hi"},
        "color": {"field": "c", "type": "nominal", "scale": {"domain": ["左腳","右腳","Rest"], "range": ["#1f7a6a","#d0466c","#3b6fdd"]}, "legend": null}}},
      {"data": {"name": "psd"}, "transform": [{"filter": "datum.ch === 'C3'"}],
       "mark": {"type": "line", "interpolate": "monotone", "strokeWidth": 4.5},
       "encoding": {"x": {"field": "f", "type": "quantitative", "axis": {"title": "Frequency (Hz)"}},
        "y": {"field": "m", "type": "quantitative", "axis": {"title": "Relative PSD density (% / Hz)"}},
        "color": {"field": "c", "type": "nominal", "legend": null}}}
    ]
  },
  {
    "width": 956, "height": 744,
    "title": {"text": "C4", "fontSize": 34, "fontWeight": "normal", "offset": 10, "color": "#000"},
    "layer": [
      {"data": {"name": "bands"}, "mark": {"type": "rect", "opacity": 0.1},
       "encoding": {"x": {"field": "x1", "type": "quantitative", "scale": {"domain": [4, 40], "nice": false, "zero": false}, "axis": {"title": "Frequency (Hz)", "values": [5,10,15,20,25,30,35,40]}}, "x2": {"field": "x2"},
        "fill": {"field": "band", "type": "nominal", "scale": {"domain": ["alpha","beta1","beta2"], "range": ["#41877d","#b9695f","#6991e1"]}, "legend": null}}},
      {"data": {"name": "bands"}, "mark": {"type": "rule", "strokeWidth": 2.5, "opacity": 0.15},
       "encoding": {"x": {"field": "x1", "type": "quantitative", "axis": {"title": "Frequency (Hz)"}}, "stroke": {"field": "band", "type": "nominal", "scale": {"domain": ["alpha","beta1","beta2"], "range": ["#41877d","#b9695f","#6991e1"]}, "legend": null}}},
      {"data": {"name": "bands"}, "mark": {"type": "rule", "strokeWidth": 2.5, "opacity": 0.15},
       "encoding": {"x": {"field": "x2", "type": "quantitative", "axis": {"title": "Frequency (Hz)"}}, "stroke": {"field": "band", "type": "nominal", "legend": null}}},
      {"data": {"name": "psd"}, "transform": [{"filter": "datum.ch === 'C4'"}],
       "mark": {"type": "area", "interpolate": "monotone", "opacity": 0.14},
       "encoding": {"x": {"field": "f", "type": "quantitative", "axis": {"title": "Frequency (Hz)"}},
        "y": {"field": "lo", "type": "quantitative", "scale": {"domain": [-1.147, 24.09], "nice": false, "zero": false}, "axis": {"title": null, "labels": false, "values": [0,5,10,15,20]}},
        "y2": {"field": "hi"},
        "color": {"field": "c", "type": "nominal", "scale": {"domain": ["左腳","右腳","Rest"], "range": ["#1f7a6a","#d0466c","#3b6fdd"]}, "legend": null}}},
      {"data": {"name": "psd"}, "transform": [{"filter": "datum.ch === 'C4'"}],
       "mark": {"type": "line", "interpolate": "monotone", "strokeWidth": 4.5},
       "encoding": {"x": {"field": "f", "type": "quantitative", "axis": {"title": "Frequency (Hz)"}},
        "y": {"field": "m", "type": "quantitative", "axis": {"title": null, "labels": false}},
        "color": {"field": "c", "type": "nominal", "legend": null}}}
    ]
  },
  {
    "width": 956, "height": 744,
    "title": {"text": "Cz", "fontSize": 34, "fontWeight": "normal", "offset": 10, "color": "#000"},
    "layer": [
      {"data": {"name": "bands"}, "mark": {"type": "rect", "opacity": 0.1},
       "encoding": {"x": {"field": "x1", "type": "quantitative", "scale": {"domain": [4, 40], "nice": false, "zero": false}, "axis": {"title": "Frequency (Hz)", "values": [5,10,15,20,25,30,35,40]}}, "x2": {"field": "x2"},
        "fill": {"field": "band", "type": "nominal", "scale": {"domain": ["alpha","beta1","beta2"], "range": ["#41877d","#b9695f","#6991e1"]}, "legend": null}}},
      {"data": {"name": "bands"}, "mark": {"type": "rule", "strokeWidth": 2.5, "opacity": 0.15},
       "encoding": {"x": {"field": "x1", "type": "quantitative", "axis": {"title": "Frequency (Hz)"}}, "stroke": {"field": "band", "type": "nominal", "scale": {"domain": ["alpha","beta1","beta2"], "range": ["#41877d","#b9695f","#6991e1"]}, "legend": null}}},
      {"data": {"name": "bands"}, "mark": {"type": "rule", "strokeWidth": 2.5, "opacity": 0.15},
       "encoding": {"x": {"field": "x2", "type": "quantitative", "axis": {"title": "Frequency (Hz)"}}, "stroke": {"field": "band", "type": "nominal", "legend": null}}},
      {"data": {"name": "psd"}, "transform": [{"filter": "datum.ch === 'Cz'"}],
       "mark": {"type": "area", "interpolate": "monotone", "opacity": 0.14},
       "encoding": {"x": {"field": "f", "type": "quantitative", "axis": {"title": "Frequency (Hz)"}},
        "y": {"field": "lo", "type": "quantitative", "scale": {"domain": [-1.147, 24.09], "nice": false, "zero": false}, "axis": {"title": null, "labels": false, "values": [0,5,10,15,20]}},
        "y2": {"field": "hi"},
        "color": {"field": "c", "type": "nominal", "scale": {"domain": ["左腳","右腳","Rest"], "range": ["#1f7a6a","#d0466c","#3b6fdd"]}, "legend": {"orient": "top-right", "title": null, "offset": 20, "symbolType": "M-1,0H3", "symbolSize": 676, "symbolStrokeWidth": 5, "symbolOpacity": 1, "labelOffset": 43, "rowPadding": 11, "labelFontSize": 23}}}},
      {"data": {"name": "psd"}, "transform": [{"filter": "datum.ch === 'Cz'"}],
       "mark": {"type": "line", "interpolate": "monotone", "strokeWidth": 4.5},
       "encoding": {"x": {"field": "f", "type": "quantitative", "axis": {"title": "Frequency (Hz)"}},
        "y": {"field": "m", "type": "quantitative", "axis": {"title": null, "labels": false}},
        "color": {"field": "c", "type": "nominal", "legend": {"orient": "top-right", "title": null, "offset": 20, "symbolType": "M-1,0H3", "symbolSize": 676, "symbolStrokeWidth": 5, "symbolOpacity": 1, "labelOffset": 43, "rowPadding": 11, "labelFontSize": 23}}}}
    ]
  }
]
}
